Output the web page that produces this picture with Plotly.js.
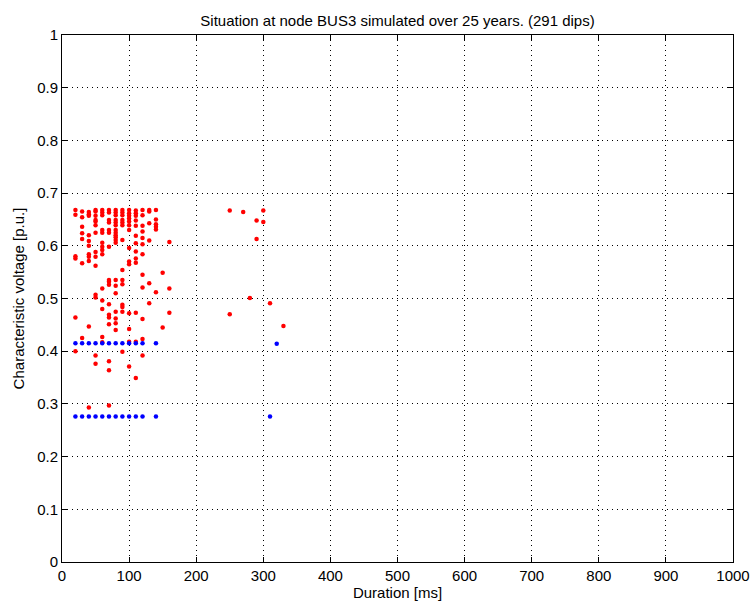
<!DOCTYPE html>
<html>
<head>
<meta charset="utf-8">
<script src="https://cdn.plot.ly/plotly-3.0.1.min.js"></script>
<style>
  html, body { margin: 0; padding: 0; background: #fff; }
  #chart { width: 750px; height: 605px; }
</style>
</head>
<body>
<div id="chart"></div>
<script>
// Voltage dips at BUS3: duration [ms] and characteristic voltage [p.u.]
// Red: dips of the first type, listed column by column of duration
const redDuration = [
  20, 20, 20, 20, 20, 20,
  30, 30, 30, 30, 30, 30, 30,
  40, 40, 40, 40, 40, 40, 40, 40, 40, 40, 40,
  50, 50, 50, 50, 50, 50, 50, 50, 50, 50, 50, 50, 50, 50,
  60, 60, 60, 60, 60, 60, 60, 60, 60, 60, 60, 60, 60, 60,
  70, 70, 70, 70, 70, 70, 70, 70, 70, 70, 70, 70, 70, 70, 70, 70, 70,
  80, 80, 80, 80, 80, 80, 80, 80, 80, 80, 80, 80, 80, 80, 80, 80, 80, 80, 80,
  90, 90, 90, 90, 90, 90, 90, 90, 90, 90, 90, 90, 90, 90,
  100, 100, 100, 100, 100, 100, 100, 100, 100, 100, 100, 100, 100, 100,
  110, 110, 110, 110, 110, 110, 110, 110, 110, 110, 110, 110, 110,
  120, 120, 120, 120, 120, 120, 120, 120, 120, 120, 120, 120,
  130, 130, 130, 130, 130, 130,
  140, 140, 140, 140, 140, 140,
  150, 150,
  160, 160, 160,
  250, 270, 290, 300, 300, 290, 280, 310, 250, 330
];
const redVoltage = [
  0.668, 0.659, 0.580, 0.576, 0.464, 0.400,
  0.665, 0.654, 0.636, 0.624, 0.613, 0.567, 0.425,
  0.664, 0.660, 0.657, 0.620, 0.609, 0.600, 0.584, 0.579, 0.571, 0.447, 0.293,
  0.668, 0.665, 0.657, 0.649, 0.646, 0.639, 0.625, 0.588, 0.579, 0.562, 0.507, 0.502, 0.392, 0.376,
  0.668, 0.663, 0.658, 0.630, 0.625, 0.606, 0.598, 0.592, 0.584, 0.519, 0.496, 0.480, 0.427, 0.417,
  0.668, 0.663, 0.649, 0.644, 0.630, 0.625, 0.598, 0.535, 0.532, 0.526, 0.489, 0.469, 0.464, 0.451, 0.381, 0.364, 0.297,
  0.668, 0.663, 0.658, 0.649, 0.644, 0.639, 0.630, 0.625, 0.620, 0.616, 0.611, 0.606, 0.535, 0.524, 0.510, 0.475, 0.462, 0.453, 0.440,
  0.668, 0.663, 0.658, 0.649, 0.644, 0.639, 0.611, 0.554, 0.535, 0.527, 0.488, 0.484, 0.475, 0.399,
  0.668, 0.662, 0.657, 0.652, 0.646, 0.639, 0.630, 0.596, 0.570, 0.565, 0.472, 0.442, 0.418, 0.371,
  0.667, 0.662, 0.657, 0.648, 0.638, 0.619, 0.605, 0.589, 0.576, 0.568, 0.473, 0.418, 0.349,
  0.668, 0.658, 0.638, 0.627, 0.615, 0.603, 0.584, 0.545, 0.521, 0.461, 0.423, 0.392,
  0.668, 0.665, 0.643, 0.610, 0.529, 0.491,
  0.668, 0.650, 0.641, 0.636, 0.631, 0.512,
  0.549, 0.445,
  0.607, 0.519, 0.473,
  0.667, 0.664, 0.648, 0.667, 0.645, 0.613, 0.501, 0.491, 0.470, 0.448
];

// Blue: dips of the second type, two fixed voltage levels
const blueDuration = [
  20, 30, 40, 50, 60, 70, 80, 90, 100, 110, 120, 140, 320,
  20, 30, 40, 50, 60, 70, 80, 90, 100, 110, 120, 140, 310
];
const blueVoltage = [
  0.415, 0.415, 0.415, 0.415, 0.415, 0.415, 0.415, 0.415, 0.415, 0.415, 0.415, 0.415, 0.414,
  0.276, 0.276, 0.276, 0.276, 0.276, 0.276, 0.276, 0.276, 0.276, 0.276, 0.276, 0.276, 0.276
];

const xTicks = [0, 100, 200, 300, 400, 500, 600, 700, 800, 900, 1000];
const yTicks = [0, 0.1, 0.2, 0.3, 0.4, 0.5, 0.6, 0.7, 0.8, 0.9, 1];
const yTickText = ['0', '0.1', '0.2', '0.3', '0.4', '0.5', '0.6', '0.7', '0.8', '0.9', '1'];

const fontFamily = 'Liberation Sans, Arial, Helvetica, sans-serif';
const fontSize = 15;

const traces = [
  {
    type: 'scatter', mode: 'markers',
    x: redDuration, y: redVoltage,
    marker: { color: '#ff0000', size: 4.5, line: { width: 0 } },
    hoverinfo: 'x+y'
  },
  {
    type: 'scatter', mode: 'markers',
    x: blueDuration, y: blueVoltage,
    marker: { color: '#0000ff', size: 4.5, line: { width: 0 } },
    hoverinfo: 'x+y'
  }
];

const axisCommon = {
  showline: true, linecolor: '#000', linewidth: 1, mirror: 'ticks',
  ticks: 'inside', ticklen: 5, tickcolor: '#000', tickwidth: 1,
  showgrid: true, gridcolor: '#000', gridwidth: 1, griddash: '1px,4px',
  zeroline: false,
  tickfont: { family: fontFamily, size: fontSize, color: '#000' }
};

const layout = {
  width: 750, height: 605,
  margin: { l: 62, r: 17, t: 35, b: 43 },
  paper_bgcolor: '#fff', plot_bgcolor: '#fff',
  showlegend: false,
  font: { family: fontFamily, size: fontSize, color: '#000' },
  title: {
    text: 'Situation at node BUS3 simulated over 25 years. (291 dips)',
    font: { family: fontFamily, size: fontSize, color: '#000' },
    x: 0.5, xref: 'paper', y: 1, yref: 'paper', yanchor: 'bottom',
    pad: { b: 9 }
  },
  xaxis: Object.assign({}, axisCommon, {
    range: [0, 1000], tickvals: xTicks, ticktext: xTicks.map(String),
    title: { text: 'Duration [ms]', font: { family: fontFamily, size: fontSize, color: '#000' }, standoff: 0 }
  }),
  yaxis: Object.assign({}, axisCommon, {
    range: [0, 1], tickvals: yTicks, ticktext: yTickText,
    title: { text: 'Characteristic voltage [p.u.]', font: { family: fontFamily, size: fontSize, color: '#000' }, standoff: 8 }
  })
};

Plotly.newPlot('chart', traces, layout, { staticPlot: true, displayModeBar: false });
</script>
</body>
</html>
